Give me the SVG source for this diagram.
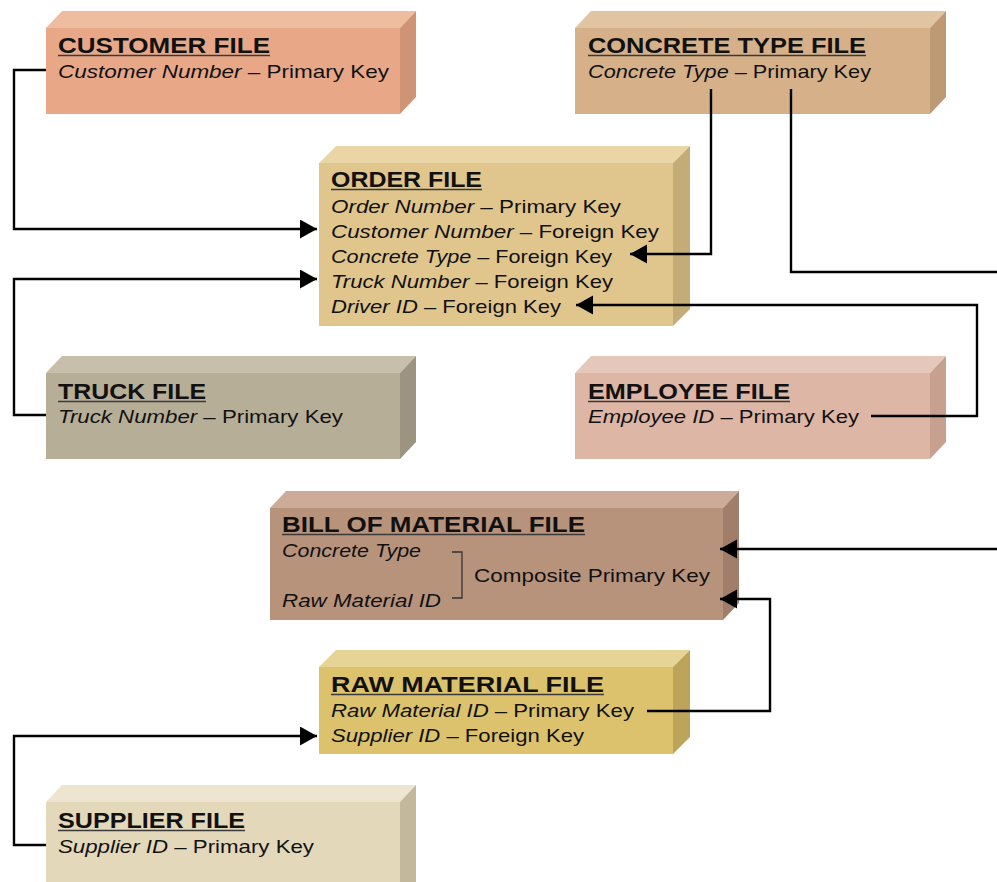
<svg xmlns="http://www.w3.org/2000/svg" width="997" height="882" viewBox="0 0 997 882">
<defs>
<style>
.title{font-family:"Liberation Sans",Arial,sans-serif;font-weight:bold;font-size:21.5px;fill:#111}
.body{font-family:"Liberation Sans",Arial,sans-serif;font-size:19px;fill:#111}
.it{font-style:italic}
.ul{stroke:#3a3a3a;stroke-width:1.6}
.conn{fill:none;stroke:#000;stroke-width:2.4}
.brk{fill:none;stroke:#333;stroke-width:1.3}
</style>
<marker id="arr" markerUnits="userSpaceOnUse" markerWidth="18" markerHeight="20" refX="17" refY="9.5" orient="auto">
<path d="M0,0 L17,9.5 L0,19 z" fill="#000"/>
</marker>
</defs>
<rect width="997" height="882" fill="#fff"/>

<g id="customer">
<polygon points="46,28 62,11 416,11 400,28" fill="#EEBC9E"/>
<polygon points="400,28 416,11 416,97 400,114" fill="#CF9476"/>
<rect x="46" y="28" width="354" height="86" fill="#E8A888"/>
<text class="title" x="58" y="53" textLength="212" lengthAdjust="spacingAndGlyphs">CUSTOMER FILE</text>
<line class="ul" x1="58" y1="55.5" x2="270" y2="55.5"/>
<text class="body" x="58" y="78" textLength="331" lengthAdjust="spacingAndGlyphs"><tspan class="it">Customer Number</tspan> – Primary Key</text>
</g>

<g id="concrete-type">
<polygon points="575,28 591,11 946,11 930,28" fill="#E1C5A2"/>
<polygon points="930,28 946,11 946,97 930,114" fill="#BD9A74"/>
<rect x="575" y="28" width="355" height="86" fill="#D6B088"/>
<text class="title" x="588" y="53" textLength="278" lengthAdjust="spacingAndGlyphs">CONCRETE TYPE FILE</text>
<line class="ul" x1="588" y1="55.5" x2="866" y2="55.5"/>
<text class="body" x="588" y="78" textLength="283" lengthAdjust="spacingAndGlyphs"><tspan class="it">Concrete Type</tspan> – Primary Key</text>
</g>

<g id="order">
<polygon points="319,163 336,146 690,146 673,163" fill="#E9D5A6"/>
<polygon points="673,163 690,146 690,309 673,326" fill="#C4AC78"/>
<rect x="319" y="163" width="354" height="163" fill="#E0C68C"/>
<text class="title" x="331" y="187" textLength="151" lengthAdjust="spacingAndGlyphs">ORDER FILE</text>
<line class="ul" x1="331" y1="189.5" x2="482" y2="189.5"/>
<text class="body" x="331" y="213" textLength="290" lengthAdjust="spacingAndGlyphs"><tspan class="it">Order Number</tspan> – Primary Key</text>
<text class="body" x="331" y="238" textLength="328" lengthAdjust="spacingAndGlyphs"><tspan class="it">Customer Number</tspan> – Foreign Key</text>
<text class="body" x="331" y="263" textLength="281" lengthAdjust="spacingAndGlyphs"><tspan class="it">Concrete Type</tspan> – Foreign Key</text>
<text class="body" x="331" y="288" textLength="282" lengthAdjust="spacingAndGlyphs"><tspan class="it">Truck Number</tspan> – Foreign Key</text>
<text class="body" x="331" y="313" textLength="230" lengthAdjust="spacingAndGlyphs"><tspan class="it">Driver ID</tspan> – Foreign Key</text>
</g>

<g id="truck">
<polygon points="46,373 62,356 416,356 400,373" fill="#C7BFAA"/>
<polygon points="400,373 416,356 416,442 400,459" fill="#9C9480"/>
<rect x="46" y="373" width="354" height="86" fill="#B7AE98"/>
<text class="title" x="58" y="399" textLength="148" lengthAdjust="spacingAndGlyphs">TRUCK FILE</text>
<line class="ul" x1="58" y1="401.5" x2="206" y2="401.5"/>
<text class="body" x="58" y="423" textLength="285" lengthAdjust="spacingAndGlyphs"><tspan class="it">Truck Number</tspan> – Primary Key</text>
</g>

<g id="employee">
<polygon points="575,373 591,356 946,356 930,373" fill="#E6C8BA"/>
<polygon points="930,373 946,356 946,442 930,459" fill="#C8A090"/>
<rect x="575" y="373" width="355" height="86" fill="#DEB6A6"/>
<text class="title" x="588" y="399" textLength="202" lengthAdjust="spacingAndGlyphs">EMPLOYEE FILE</text>
<line class="ul" x1="588" y1="401.5" x2="790" y2="401.5"/>
<text class="body" x="588" y="423" textLength="271" lengthAdjust="spacingAndGlyphs"><tspan class="it">Employee ID</tspan> – Primary Key</text>
</g>

<g id="bill-of-material">
<polygon points="270,508 286,491 739,491 723,508" fill="#CCAB99"/>
<polygon points="723,508 739,491 739,603 723,620" fill="#A07E6A"/>
<rect x="270" y="508" width="453" height="112" fill="#B8937C"/>
<text class="title" x="282" y="532" textLength="303" lengthAdjust="spacingAndGlyphs">BILL OF MATERIAL FILE</text>
<line class="ul" x1="282" y1="534.5" x2="585" y2="534.5"/>
<text class="body it" x="282" y="557" textLength="139" lengthAdjust="spacingAndGlyphs">Concrete Type</text>
<text class="body it" x="282" y="607" textLength="159" lengthAdjust="spacingAndGlyphs">Raw Material ID</text>
<path class="brk" d="M452,552 H462 V598 H452"/>
<text class="body" x="474" y="582" textLength="236" lengthAdjust="spacingAndGlyphs">Composite Primary Key</text>
</g>

<g id="raw-material">
<polygon points="319,667 336,650 690,650 673,667" fill="#E6D396"/>
<polygon points="673,667 690,650 690,737 673,754" fill="#BCA45A"/>
<rect x="319" y="667" width="354" height="87" fill="#DCC26C"/>
<text class="title" x="331" y="692" textLength="273" lengthAdjust="spacingAndGlyphs">RAW MATERIAL FILE</text>
<line class="ul" x1="331" y1="694.5" x2="604" y2="694.5"/>
<text class="body" x="331" y="717" textLength="303" lengthAdjust="spacingAndGlyphs"><tspan class="it">Raw Material ID</tspan> – Primary Key</text>
<text class="body" x="331" y="742" textLength="253" lengthAdjust="spacingAndGlyphs"><tspan class="it">Supplier ID</tspan> – Foreign Key</text>
</g>

<g id="supplier">
<polygon points="46,802 62,785 416,785 400,802" fill="#EEE5D0"/>
<polygon points="400,802 416,785 416,882 400,899" fill="#C4B89C"/>
<rect x="46" y="802" width="354" height="90" fill="#E4D8BA"/>
<text class="title" x="58" y="828" textLength="187" lengthAdjust="spacingAndGlyphs">SUPPLIER FILE</text>
<line class="ul" x1="58" y1="830.5" x2="245" y2="830.5"/>
<text class="body" x="58" y="853" textLength="256" lengthAdjust="spacingAndGlyphs"><tspan class="it">Supplier ID</tspan> – Primary Key</text>
</g>

<g id="connectors">
<path class="conn" d="M46,70 H14 V229 H317" marker-end="url(#arr)"/>
<path class="conn" d="M46,415 H14 V279 H317" marker-end="url(#arr)"/>
<path class="conn" d="M711,89 V254 H630" marker-end="url(#arr)"/>
<path class="conn" d="M791,89 V272 H1010 V549 H720" marker-end="url(#arr)"/>
<path class="conn" d="M871,416 H977 V305 H576" marker-end="url(#arr)"/>
<path class="conn" d="M647,711 H770 V599 H720" marker-end="url(#arr)"/>
<path class="conn" d="M46,845 H14 V736 H317" marker-end="url(#arr)"/>
</g>
</svg>
